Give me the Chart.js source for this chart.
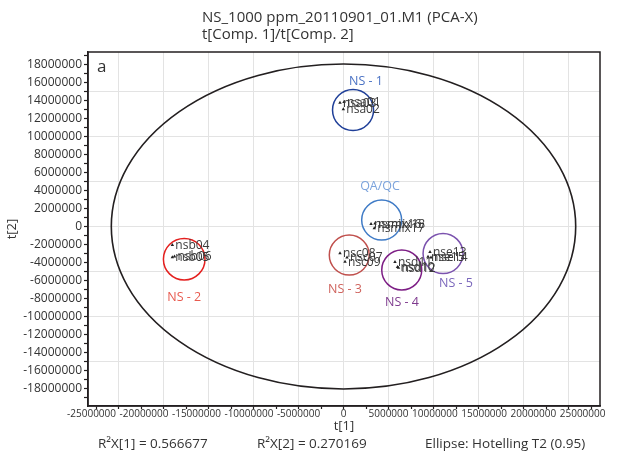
<!DOCTYPE html>
<html><head><meta charset="utf-8">
<script src="https://cdn.jsdelivr.net/npm/chart.js@4.4.0/dist/chart.umd.min.js"></script>
<style>html,body{margin:0;padding:0;background:#fff}canvas{display:block}</style>
</head><body>
<canvas id="c" width="630" height="455"></canvas>
<script>
const FONT = '"Open Sans", "Noto Sans", sans-serif';
const TXT = '#333333';

const titleLines = ['NS_1000 ppm_20110901_01.M1 (PCA-X)', 't[Comp. 1]/t[Comp. 2]'];
const footerTexts = ['R\u00B2X[1] = 0.566677', 'R\u00B2X[2] = 0.270169', 'Ellipse: Hotelling T2 (0.95)'];
const panelLetter = 'a';

// observations (scores t[1], t[2])
const obsNames = ['nsa01','nsa02','nsa03','nsb04','nsb05','nsb06','nsc07','nsc08','nsc09',
                  'nsd10','nsd11','nsd12','nse13','nse14','nse15','nsmix16','nsmix17','nsmix18'];
const obsT1 = [60000, -20000, -390000, -19020000, -19020000, -18780000, 390000, -390000, 170000,
               6000000, 5720000, 6110000, 9610000, 9720000, 9390000, 3060000, 3420000, 3500000];
const obsT2 = [13830000, 13020000, 13760000, -2060000, -3420000, -3330000, -3440000, -2980000, -3910000,
               -4500000, -3940000, -4590000, -2830000, -3440000, -3370000, 280000, -200000, 330000];

// group circles
const groupNames = ['NS - 1', 'QA/QC', 'NS - 2', 'NS - 3', 'NS - 4', 'NS - 5'];
const groupCx = [1060000, 4240000, -17700000, 640000, 6470000, 11060000];
const groupCy = [12940000, 720000, -3630000, -3170000, -4830000, -3000000];
const groupR = [2280000, 2220000, 2310000, 2220000, 2220000, 2220000];
const groupLabelX = [2500000, 4060000, -17690000, 170000, 6500000, 12500000];
const groupLabelY = [16170000, 4500000, -7870000, -6940000, -8390000, -6280000];
const groupColors = ['#1f3f98', '#3f7bc6', '#e4201f', '#c0504d', '#7d1e85', '#7b52ae'];
const groupLabelColors = ['#4a72c4', '#7ba3dc', '#e85a4f', '#cf625c', '#7e3a8e', '#7a66bb'];

// Hotelling T2 ellipse semi-axes
const ellipseA = 25800000;
const ellipseB = 18050000;

// axes
const xMin = -28390000, xMax = 28500000;
const yMin = -19940000, yMax = 19390000;
const xLabelValues = [-25000000,-20000000,-15000000,-10000000,-5000000,0,5000000,10000000,15000000,20000000,25000000];
const xTickLabels = ['-25000000','-20000000','-15000000','-10000000','-5000000','0','5000000','10000000','15000000','20000000','25000000'];
const yLabelValues = [-18000000,-16000000,-14000000,-12000000,-10000000,-8000000,-6000000,-4000000,-2000000,0,
                      2000000,4000000,6000000,8000000,10000000,12000000,14000000,16000000,18000000];
const yTickLabels = ['-18000000','-16000000','-14000000','-12000000','-10000000','-8000000','-6000000','-4000000','-2000000','0',
                     '2000000','4000000','6000000','8000000','10000000','12000000','14000000','16000000','18000000'];
const xTickStep = 2500000, yTickStep = 1000000, gridStep = 5000000;

const xTicks = []; for (let v = -27500000; v <= 27500000; v += xTickStep) xTicks.push(v);
const yTicks = []; for (let v = -19000000; v <= 19000000; v += yTickStep) yTicks.push(v);

const gridColor = c => (c.tick && Math.abs(c.tick.value % gridStep) < 1) ? '#e3e3e3' : 'rgba(0,0,0,0)';

const decor = {
  id: 'decor',
  beforeDatasetsDraw(chart) {
    const {ctx, scales: {x, y}} = chart;
    const ca = chart.chartArea;
    ctx.save();
    ctx.beginPath(); ctx.rect(ca.left, ca.top, ca.right - ca.left, ca.bottom - ca.top); ctx.clip();
    // ellipse
    const cx = x.getPixelForValue(0), cy = y.getPixelForValue(0);
    ctx.beginPath();
    ctx.ellipse(cx, cy, x.getPixelForValue(ellipseA) - cx, cy - y.getPixelForValue(ellipseB), 0, 0, Math.PI * 2);
    ctx.strokeStyle = '#231f20'; ctx.lineWidth = 1.6; ctx.stroke();
    // group circles
    groupNames.forEach((g, i) => {
      const gx = x.getPixelForValue(groupCx[i]), gy = y.getPixelForValue(groupCy[i]);
      const rx = x.getPixelForValue(groupCx[i] + groupR[i]) - gx;
      const ry = gy - y.getPixelForValue(groupCy[i] + groupR[i]);
      ctx.beginPath(); ctx.ellipse(gx, gy, rx, ry, 0, 0, Math.PI * 2);
      ctx.strokeStyle = groupColors[i]; ctx.lineWidth = 1.5; ctx.stroke();
    });
    ctx.restore();
  },
  afterDatasetsDraw(chart) {
    const {ctx, scales: {x, y}} = chart;
    const ca = chart.chartArea;
    ctx.save();
    // point labels
    ctx.font = '12px ' + FONT; ctx.fillStyle = '#3a3a3a';
    ctx.textAlign = 'left'; ctx.textBaseline = 'alphabetic';
    obsNames.forEach((n, i) => {
      ctx.fillText(n, x.getPixelForValue(obsT1[i]) + 3, y.getPixelForValue(obsT2[i]) + 4);
    });
    // group labels
    ctx.font = '12.5px ' + FONT; ctx.textAlign = 'center'; ctx.textBaseline = 'middle';
    groupNames.forEach((g, i) => {
      ctx.fillStyle = groupLabelColors[i];
      ctx.fillText(g, x.getPixelForValue(groupLabelX[i]), y.getPixelForValue(groupLabelY[i]));
    });
    // panel letter
    ctx.font = '17px ' + FONT; ctx.fillStyle = TXT; ctx.textAlign = 'left'; ctx.textBaseline = 'alphabetic';
    ctx.fillText(panelLetter, ca.left + 9, ca.top + 20);
    // frame
    ctx.strokeStyle = '#231f20'; ctx.lineWidth = 1.5;
    ctx.strokeRect(ca.left, ca.top, ca.right - ca.left, ca.bottom - ca.top);
    // x tick labels, pushed apart where they would collide
    ctx.font = '10px ' + FONT; ctx.fillStyle = TXT; ctx.textAlign = 'center'; ctx.textBaseline = 'middle';
    const pos = xLabelValues.map(v => x.getPixelForValue(v));
    const w = xTickLabels.map(t => ctx.measureText(t).width);
    const gap = 3.5;
    const z = xLabelValues.indexOf(0);
    for (let i = z - 1; i >= 0; i--) {
      const lim = pos[i + 1] - w[i + 1] / 2 - gap;
      if (pos[i] + w[i] / 2 > lim) pos[i] = lim - w[i] / 2;
    }
    for (let i = z + 1; i < pos.length; i++) {
      const lim = pos[i - 1] + w[i - 1] / 2 + gap;
      if (pos[i] - w[i] / 2 < lim) pos[i] = lim + w[i] / 2;
    }
    xTickLabels.forEach((t, i) => ctx.fillText(t, pos[i], ca.bottom + 8));
    // title
    ctx.font = '15px ' + FONT; ctx.fillStyle = TXT; ctx.textAlign = 'left';
    ctx.fillText(titleLines[0], 202, 18);
    ctx.fillText(titleLines[1], 202, 35);
    // footer
    ctx.font = '13.5px ' + FONT;
    ctx.fillText(footerTexts[0], 98, 444);
    ctx.fillText(footerTexts[1], 257, 444);
    ctx.fillText(footerTexts[2], 425, 444);
    ctx.restore();
  }
};

new Chart(document.getElementById('c'), {
  type: 'scatter',
  data: {
    datasets: [{
      data: obsNames.map((n, i) => ({x: obsT1[i], y: obsT2[i]})),
      pointStyle: 'triangle', radius: 2, hoverRadius: 2,
      backgroundColor: '#222', borderColor: '#222', borderWidth: 0
    }]
  },
  options: {
    responsive: false, animation: false, devicePixelRatio: 1,
    layout: {padding: {left: 0, right: 30, top: 52, bottom: 20}},
    plugins: {legend: {display: false}, tooltip: {enabled: false}, title: {display: false}},
    scales: {
      x: {
        type: 'linear', position: 'bottom', min: xMin, max: xMax, bounds: 'data',
        afterBuildTicks: s => { s.ticks = xTicks.map(v => ({value: v})); },
        afterFit: s => { s.height = 29; },
        ticks: {display: false},
        grid: {color: gridColor, lineWidth: 1, drawTicks: true, tickLength: 3, tickColor: '#231f20', tickWidth: 1.2},
        border: {display: true, color: '#231f20', width: 1.5},
        title: {display: true, text: 't[1]', color: TXT, font: {family: FONT, size: 13}, padding: {top: 0, bottom: 1}}
      },
      y: {
        type: 'linear', position: 'left', min: yMin, max: yMax, bounds: 'data',
        afterBuildTicks: s => { s.ticks = yTicks.map(v => ({value: v})); },
        afterFit: s => { s.width = 88; },
        ticks: {
          autoSkip: false, color: TXT, font: {family: FONT, size: 12}, padding: 2,
          callback: v => { const k = yLabelValues.indexOf(v); return k >= 0 ? yTickLabels[k] : ''; }
        },
        grid: {color: gridColor, lineWidth: 1, drawTicks: true, tickLength: 4, tickColor: '#231f20', tickWidth: 1.2},
        border: {display: true, color: '#231f20', width: 1.5},
        title: {display: true, text: 't[2]', color: TXT, font: {family: FONT, size: 13}, padding: {top: 4, bottom: 0}}
      }
    }
  },
  plugins: [decor]
});
</script>
</body></html>
